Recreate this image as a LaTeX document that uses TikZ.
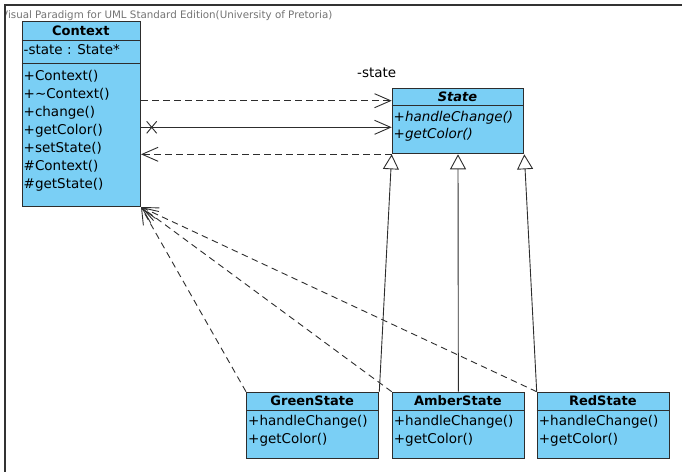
\documentclass[tikz,border=0pt]{standalone}
\usepackage{fontspec}
\setmainfont{DejaVu Sans}
\usetikzlibrary{arrows.meta}

\definecolor{umlblue}{RGB}{122,207,245}
\definecolor{umlline}{RGB}{45,45,45}

\tikzset{
  classbox/.style={draw=umlline, fill=umlblue, line width=1pt, inner sep=0pt, anchor=north west},
  divider/.style={draw=umlline, line width=1pt},
  classname/.style={inner sep=0pt, font=\fontsize{13}{15}\selectfont\bfseries},
  member/.style={anchor=mid west, inner sep=0pt, font=\fontsize{13.5}{16}\selectfont},
  depline/.style={draw=umlline, line width=0.9pt, dash pattern=on 6.5pt off 4.5pt,
    -{Straight Barb[length=16pt, width=14pt, line width=0.9pt]}},
  assocline/.style={draw=umlline, line width=0.9pt,
    -{Straight Barb[length=16pt, width=14pt, line width=0.9pt]}},
  genline/.style={draw=umlline, line width=0.9pt,
    -{Triangle[open, length=15pt, width=16pt, fill=white, line width=0.9pt]}},
  watermark/.style={anchor=west, inner sep=0pt, text=black!55, font=\fontsize{10.3}{12}\selectfont}
}

\begin{document}
\begin{tikzpicture}[x=1pt, y=-1pt]
	\useasboundingbox (0,0) rectangle (682,472);

	%frame
	\draw[line width=1.6pt, draw=black!80] (682,5) -- (5,5) -- (5,472);
	\begin{scope}
		\clip (6,6) rectangle (682,26);
		\node[watermark] (vp) at (1,15.5) {Visual Paradigm for UML Standard Edition(University of Pretoria)};
	\end{scope}

	%Context
	\node[classbox, minimum width=118.3, minimum height=185] (context) at (21.7,21) {};
	\draw[divider] (context.west |- 0,40.7) -- (context.east |- 0,40.7);
	\draw[divider] (context.west |- 0,63.3) -- (context.east |- 0,63.3);
	\node[classname] (contextname) at (80.8,31.2) {Context};
	\node[member] (contextattr) at (23.5,52) {-state : State*};
	\foreach \op [count=\i] in {+Context(), +\textasciitilde Context(), +change(), +getColor(),
		+setState(), \#Context(), \#getState()}
		\node[member] (contextop\i) at (23.5, 59.5+18.1*\i) {\op};

	%State
	\node[classbox, minimum width=131.6, minimum height=65.6] (state) at (391.7,87.7) {};
	\draw[divider] (state.west |- 0,105.7) -- (state.east |- 0,105.7);
	\node[classname, font=\fontsize{13}{15}\selectfont\bfseries\itshape] (statename) at (457.5,96.9) {State};
	\node[member, font=\fontsize{13.5}{16}\selectfont\itshape] (stateop1) at (393.5,118.3) {+handleChange()};
	\node[member, font=\fontsize{13.5}{16}\selectfont\itshape] (stateop2) at (393.5,136) {+getColor()};
	\node[member] (rolename) at (357,74.3) {-state};

	%concrete states
	\foreach \cls/\title/\xx in {green/GreenState/246, amber/AmberState/391.7, red/RedState/536.7} {
		\node[classbox, minimum width=132.3, minimum height=66.6] (\cls) at (\xx,391.7) {};
		\draw[divider] (\cls.west |- 0,410) -- (\cls.east |- 0,410);
		\node[classname] (\cls name) at ([xshift=66.15]\xx,401) {\title};
		\node[member] (\cls op1) at ([xshift=2]\xx,422.3) {+handleChange()};
		\node[member] (\cls op2) at ([xshift=2]\xx,440.7) {+getColor()};
	}

	%associations
	\draw[depline] (context.east |- 0,100.7) -- (state.west |- 0,100.7);
	\draw[assocline] (context.east |- 0,127.3) -- (state.west |- 0,127.3);
	\coordinate (navx) at (151.7,127.3);
	\draw[umlline, line width=0.9pt] (navx) ++(-5,-6) -- ++(10,12) (navx) ++(5,-6) -- ++(-10,12);
	\draw[depline] (state.south west) -- (context.east |- state.south west);

	%generalization
	\draw[genline] (green.north east) -- (state.south west);
	\draw[genline] (amber.north) -- (state.south);
	\draw[genline] (red.north west) -- (state.south east);

	%dependencies
	\draw[depline] (green.north west) -- (context.south east);
	\draw[depline] (amber.north west) -- (context.south east);
	\draw[depline] (red.north west) -- (context.south east);
\end{tikzpicture}
\end{document}
